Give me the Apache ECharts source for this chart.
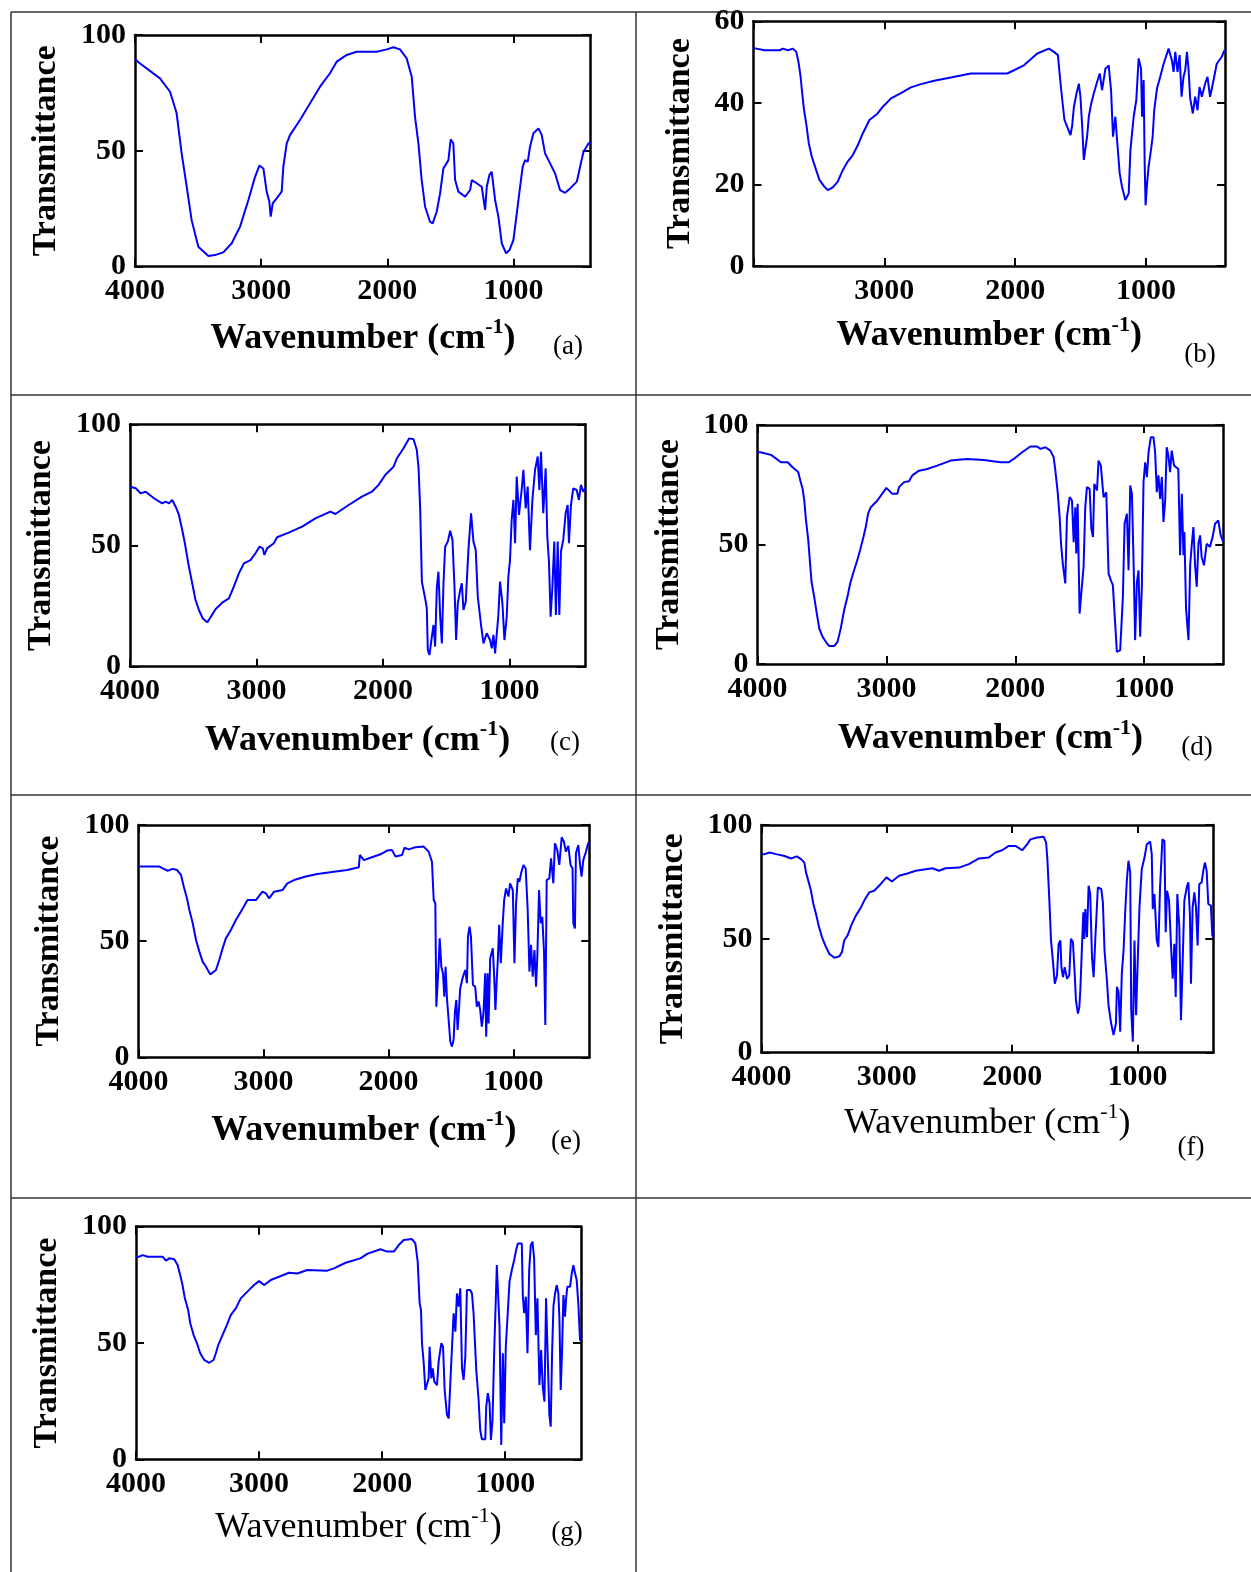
<!DOCTYPE html>
<html><head><meta charset="utf-8">
<script src="https://cdn.jsdelivr.net/npm/echarts@6/dist/echarts.min.js"></script>
<style>html,body{margin:0;padding:0;background:#fff}#c{width:1251px;height:1572px}</style>
</head><body><div id="c"></div>
<script>
// ---- tick labels ----
const xTickValues = [4000, 3000, 2000, 1000];
const xTickLabelsB = [3000, 2000, 1000];
const yTicks100 = [0, 50, 100];
const yTicks60 = [0, 20, 40, 60];
const panelLabels = ['(a)', '(b)', '(c)', '(d)', '(e)', '(f)', '(g)'];

// ---- spectra: [wavenumber (cm-1), transmittance] ----
const specA = [[4000,89.5],[3960,87.7],[3802,81.3],[3722,75.5],[3670,66.2],[3630,48.9],[3590,34.5],[3551,20.1],[3498,8.6],[3418,4.6],[3366,5.0],[3300,6.2],[3233,10.1],[3167,17.3],[3101,28.8],[3048,38.8],[3014,43.6],[2982,42.4],[2956,32.4],[2935,28.1],[2924,21.6],[2908,27.3],[2877,29.5],[2837,32.4],[2824,43.2],[2797,53.2],[2771,56.8],[2692,63.3],[2612,70.5],[2533,77.7],[2454,83.5],[2401,88.5],[2321,91.4],[2242,92.8],[2084,92.8],[2004,93.8],[1951,94.7],[1899,93.8],[1846,89.9],[1806,82.0],[1780,64.7],[1753,53.2],[1727,37.4],[1700,25.9],[1661,19.4],[1640,18.7],[1608,23.7],[1581,31.7],[1555,42.4],[1515,46.0],[1497,55.0],[1476,53.2],[1462,37.4],[1436,32.4],[1383,30.2],[1343,33.1],[1330,37.4],[1291,36.0],[1251,34.5],[1224,24.5],[1211,34.5],[1190,39.6],[1172,41.0],[1145,28.8],[1119,21.6],[1092,10.1],[1058,5.8],[1031,7.2],[1000,11.5],[973,23.0],[947,34.5],[926,43.2],[907,46.0],[886,45.3],[868,51.8],[841,57.6],[801,59.7],[775,56.8],[749,48.9],[709,44.6],[670,40.3],[630,33.1],[590,31.9],[550,33.8],[497,36.7],[471,43.2],[444,49.6],[405,53.2],[387,53.5]];
const specB = [[4000,53.3],[3978,53.3],[3915,52.9],[3800,52.9],[3775,53.3],[3737,52.9],[3699,53.3],[3673,52.5],[3656,50.0],[3640,46.4],[3630,43.1],[3615,38.6],[3597,34.9],[3577,30.0],[3554,26.8],[3521,23.5],[3496,21.1],[3457,19.4],[3432,18.6],[3394,19.3],[3356,20.7],[3318,23.5],[3280,25.6],[3241,27.2],[3203,29.6],[3165,32.5],[3114,35.8],[3051,37.4],[3013,39.0],[2949,41.1],[2873,42.4],[2797,43.8],[2720,44.6],[2619,45.4],[2492,46.2],[2339,47.2],[2212,47.2],[2060,47.2],[2009,48.0],[1933,49.2],[1831,52.1],[1742,53.3],[1704,52.5],[1673,51.7],[1658,46.4],[1640,40.7],[1623,35.8],[1602,34.1],[1577,32.1],[1564,34.5],[1551,39.0],[1531,42.3],[1513,44.7],[1501,41.5],[1488,34.5],[1475,26.0],[1463,25.6],[1450,31.7],[1437,36.6],[1419,39.8],[1399,42.3],[1374,45.1],[1353,47.2],[1336,43.1],[1310,48.4],[1285,49.2],[1267,43.1],[1252,31.7],[1234,36.6],[1221,30.9],[1201,22.7],[1183,19.4],[1158,16.2],[1132,17.8],[1119,28.4],[1094,36.6],[1074,40.7],[1056,50.9],[1038,48.4],[1030,36.6],[1018,45.6],[1010,25.1],[1003,14.9],[992,20.2],[980,24.3],[962,28.4],[949,31.7],[937,38.2],[916,43.5],[891,46.4],[865,49.6],[827,53.3],[802,50.4],[789,47.6],[776,52.5],[759,47.6],[743,51.7],[728,41.5],[713,46.4],[700,48.0],[687,52.5],[675,48.4],[662,41.1],[642,37.4],[624,41.5],[606,38.2],[591,43.9],[573,41.5],[548,44.7],[530,46.4],[510,41.5],[489,44.7],[459,49.6],[421,51.3],[400,52.9]];
const specC = [[4000,74.0],[3982,74.0],[3955,73.6],[3916,71.5],[3876,72.2],[3811,69.5],[3745,67.4],[3718,68.1],[3692,67.4],[3666,68.8],[3639,66.0],[3613,62.6],[3587,56.4],[3566,50.9],[3539,42.6],[3508,34.4],[3482,27.5],[3455,23.4],[3424,19.9],[3389,18.3],[3363,20.4],[3324,23.7],[3271,26.4],[3218,28.2],[3179,33.0],[3139,38.5],[3100,42.6],[3047,44.0],[3008,46.8],[2976,49.5],[2950,48.8],[2937,46.1],[2916,48.8],[2863,50.9],[2837,53.4],[2745,55.3],[2639,57.8],[2534,61.2],[2416,64.0],[2376,63.0],[2271,66.7],[2166,70.2],[2087,72.2],[2034,75.0],[1982,79.1],[1916,82.5],[1889,86.0],[1837,90.1],[1792,94.2],[1758,93.8],[1732,89.4],[1718,81.8],[1705,64.6],[1692,35.1],[1679,31.6],[1666,28.2],[1653,24.1],[1645,6.9],[1632,4.8],[1613,12.4],[1600,17.2],[1587,8.3],[1574,32.3],[1561,39.2],[1547,20.6],[1534,9.6],[1521,34.4],[1508,49.5],[1487,51.6],[1468,56.1],[1450,52.3],[1434,33.0],[1421,11.0],[1408,26.1],[1389,31.6],[1376,34.4],[1363,23.4],[1345,26.8],[1324,48.1],[1303,63.3],[1284,51.6],[1266,48.1],[1250,28.9],[1224,17.2],[1205,9.6],[1179,13.8],[1153,11.0],[1139,7.6],[1126,13.1],[1113,5.5],[1087,21.3],[1074,35.1],[1055,26.1],[1039,11.0],[1021,20.6],[1008,37.1],[995,44.0],[982,60.5],[968,68.8],[955,50.9],[942,78.4],[924,62.6],[903,72.9],[889,81.2],[871,65.3],[855,74.3],[837,48.1],[818,68.8],[797,81.2],[776,86.7],[763,72.9],[750,88.7],[732,63.3],[713,81.8],[700,53.6],[687,43.3],[674,20.6],[661,31.6],[645,51.6],[632,21.3],[618,51.6],[605,21.3],[592,47.5],[574,52.3],[555,63.3],[539,66.7],[529,50.9],[513,66.7],[495,73.6],[468,72.9],[450,68.8],[434,75.0],[416,72.2],[402,73.5]];
const specD = [[4000,88.6],[3978,88.6],[3895,87.5],[3818,84.4],[3766,84.4],[3728,82.3],[3684,80.3],[3668,76.8],[3650,73.3],[3637,68.4],[3625,60.8],[3606,51.7],[3594,43.4],[3581,34.4],[3560,28.1],[3542,21.8],[3521,14.9],[3495,11.4],[3470,9.3],[3444,7.5],[3405,7.5],[3379,9.3],[3354,14.9],[3328,22.5],[3302,28.1],[3281,33.7],[3255,38.5],[3230,42.7],[3204,47.6],[3178,53.1],[3160,57.3],[3142,62.9],[3121,65.6],[3070,68.4],[3000,73.7],[2954,71.2],[2915,71.2],[2902,74.0],[2863,76.1],[2825,76.5],[2799,78.9],[2747,80.9],[2683,81.6],[2605,83.0],[2502,85.1],[2373,85.8],[2244,85.4],[2115,84.4],[2050,84.4],[2012,85.8],[1947,88.6],[1883,91.0],[1831,91.0],[1805,90.0],[1766,90.7],[1728,89.3],[1702,86.5],[1689,80.9],[1671,71.9],[1655,60.8],[1645,50.3],[1630,41.3],[1612,33.7],[1599,61.5],[1578,69.8],[1560,68.4],[1547,51.0],[1534,65.6],[1527,46.2],[1516,67.0],[1501,21.1],[1488,29.5],[1470,40.6],[1457,65.6],[1444,74.0],[1423,73.3],[1410,56.6],[1397,53.1],[1387,75.4],[1366,72.6],[1354,85.1],[1336,83.0],[1315,69.8],[1294,71.9],[1276,37.8],[1258,35.0],[1243,33.0],[1225,17.0],[1212,5.1],[1186,5.8],[1165,28.1],[1152,58.7],[1134,62.9],[1121,39.2],[1108,74.7],[1095,71.2],[1083,44.8],[1070,10.0],[1057,33.7],[1044,39.2],[1031,11.4],[1018,32.3],[1005,76.1],[992,84.4],[979,78.2],[966,88.6],[948,94.9],[928,94.9],[915,88.6],[902,71.9],[889,78.9],[876,69.1],[863,78.2],[850,59.4],[837,68.4],[825,90.7],[812,87.2],[799,80.3],[786,89.3],[768,83.0],[735,81.6],[721,45.5],[708,71.2],[695,45.5],[688,55.2],[675,23.2],[656,10.0],[643,41.3],[630,50.3],[618,57.3],[605,41.3],[592,32.3],[579,50.3],[566,53.8],[554,44.8],[536,41.3],[515,50.3],[490,49.0],[469,53.1],[450,58.7],[425,60.1],[406,53.8],[386,51.0]];
const specE = [[4000,82.1],[3979,82.1],[3832,82.1],[3806,81.3],[3793,81.8],[3766,80.3],[3726,81.1],[3691,80.6],[3660,78.5],[3638,73.5],[3612,68.4],[3593,63.4],[3566,57.7],[3540,50.5],[3513,45.5],[3487,41.2],[3460,39.0],[3426,35.7],[3380,37.6],[3354,41.9],[3327,46.9],[3301,51.2],[3261,54.8],[3221,59.1],[3181,62.7],[3128,67.7],[3061,67.7],[3008,71.3],[2981,70.6],[2955,68.4],[2915,71.3],[2848,72.0],[2809,74.9],[2755,76.3],[2662,77.8],[2569,78.9],[2436,79.9],[2330,80.6],[2237,81.8],[2229,87.1],[2197,84.9],[2144,85.9],[2064,87.4],[2011,89.0],[1971,89.2],[1944,86.4],[1891,87.1],[1872,90.2],[1838,89.5],[1785,90.4],[1718,90.7],[1678,88.5],[1652,84.2],[1638,67.7],[1625,66.3],[1617,21.8],[1606,22.5],[1598,40.5],[1590,51.2],[1577,39.0],[1564,36.2],[1553,26.1],[1543,39.0],[1532,25.4],[1519,24.7],[1505,6.7],[1492,4.6],[1479,7.5],[1468,19.7],[1457,24.7],[1447,11.8],[1436,20.4],[1426,29.7],[1404,34.7],[1386,37.6],[1372,31.9],[1364,51.9],[1351,56.2],[1340,51.9],[1324,31.1],[1306,30.4],[1293,21.8],[1279,24.0],[1266,20.4],[1253,13.2],[1239,19.7],[1226,36.2],[1218,8.9],[1207,36.2],[1199,14.6],[1186,42.6],[1165,46.9],[1154,34.7],[1144,20.4],[1133,34.0],[1125,41.9],[1114,57.0],[1101,40.5],[1085,58.4],[1074,67.7],[1059,72.7],[1040,69.2],[1027,74.9],[1005,72.0],[992,40.5],[979,66.3],[965,77.0],[952,75.6],[939,79.2],[920,82.8],[902,81.3],[886,63.4],[872,36.9],[859,48.4],[846,34.7],[832,46.2],[819,30.4],[809,43.3],[795,72.0],[782,57.7],[769,60.5],[755,44.8],[745,13.9],[734,76.3],[713,77.0],[699,85.7],[681,74.9],[668,92.1],[649,89.2],[633,82.8],[614,94.7],[596,92.8],[580,88.5],[561,91.0],[543,82.8],[527,81.3],[521,57.7],[508,55.5],[500,87.8],[481,91.4],[468,83.5],[455,77.8],[441,84.9],[420,88.5],[402,92.1],[393,92.5]];
const specF = [[4000,87.2],[3976,87.2],[3936,87.9],[3883,87.2],[3817,86.4],[3764,85.3],[3719,86.2],[3684,85.0],[3658,83.5],[3645,79.2],[3623,74.8],[3605,71.1],[3586,65.3],[3565,60.9],[3544,55.8],[3517,50.7],[3491,47.1],[3459,43.4],[3419,41.7],[3379,42.3],[3358,44.2],[3340,49.3],[3313,51.5],[3279,56.6],[3247,60.2],[3207,63.8],[3180,66.8],[3141,70.4],[3101,71.1],[3048,74.1],[3003,77.0],[2960,75.2],[2902,77.7],[2836,78.7],[2769,79.9],[2637,81.0],[2584,79.9],[2531,81.0],[2424,81.3],[2345,82.8],[2265,85.3],[2186,85.7],[2133,87.9],[2080,88.9],[2027,90.8],[1973,90.8],[1920,88.9],[1881,91.5],[1854,93.7],[1801,94.5],[1748,94.8],[1729,92.3],[1719,85.0],[1703,66.8],[1690,49.3],[1674,39.8],[1660,30.3],[1642,34.0],[1629,47.8],[1615,49.3],[1607,37.6],[1594,33.2],[1581,37.6],[1562,32.5],[1544,34.0],[1531,50.0],[1515,48.5],[1501,34.7],[1491,23.0],[1475,17.2],[1464,20.1],[1456,27.4],[1443,46.4],[1432,61.7],[1424,50.0],[1416,63.1],[1403,50.7],[1390,73.3],[1377,69.7],[1363,42.0],[1350,33.2],[1337,49.3],[1316,72.6],[1289,71.9],[1276,66.0],[1263,44.9],[1244,31.8],[1231,20.8],[1210,12.8],[1191,7.7],[1172,12.8],[1164,28.9],[1151,26.7],[1138,9.2],[1125,34.7],[1111,44.9],[1098,61.7],[1085,75.5],[1072,84.3],[1058,79.2],[1050,18.7],[1037,4.8],[1024,49.3],[1011,16.5],[997,42.0],[984,63.8],[966,80.6],[944,85.7],[926,91.5],[899,92.7],[886,87.2],[878,63.1],[865,69.7],[846,49.3],[833,46.4],[820,72.6],[801,93.7],[785,93.0],[775,52.9],[764,71.1],[748,66.8],[732,46.4],[719,32.5],[706,47.8],[695,24.5],[682,69.7],[666,55.1],[653,14.3],[642,34.7],[626,66.8],[607,72.6],[594,74.8],[581,59.5],[573,30.3],[560,63.8],[546,70.4],[533,63.8],[520,47.1],[507,74.1],[488,74.8],[475,79.9],[462,83.5],[448,79.9],[435,65.3],[414,64.6],[403,51.5],[395,50.5]];
const specG = [[4000,87.1],[3973,87.1],[3946,87.8],[3905,87.1],[3784,87.1],[3757,85.4],[3730,86.4],[3689,86.0],[3662,83.5],[3641,79.2],[3622,74.9],[3603,69.2],[3576,64.2],[3559,58.5],[3532,53.4],[3505,49.9],[3478,45.6],[3446,42.7],[3405,41.5],[3370,42.7],[3351,45.6],[3332,49.1],[3297,53.4],[3262,57.7],[3230,62.0],[3189,64.9],[3149,69.2],[3095,72.1],[3041,74.9],[3000,76.6],[2959,74.9],[2905,77.1],[2838,78.5],[2757,80.2],[2689,79.9],[2608,81.4],[2446,81.1],[2392,82.1],[2297,84.5],[2176,86.4],[2122,88.3],[2014,90.3],[1959,89.3],[1905,89.3],[1865,92.1],[1824,94.3],[1757,94.7],[1730,92.8],[1711,85.0],[1695,67.0],[1684,64.2],[1676,49.9],[1662,41.3],[1649,29.8],[1635,29.8],[1622,34.8],[1614,48.4],[1600,34.8],[1589,39.1],[1576,33.4],[1554,31.9],[1541,42.0],[1519,49.9],[1505,48.4],[1492,29.8],[1473,19.1],[1459,17.6],[1446,32.7],[1432,48.4],[1419,62.8],[1405,54.9],[1392,71.3],[1378,65.6],[1365,73.5],[1351,39.1],[1338,34.1],[1324,44.1],[1311,72.8],[1284,72.8],[1270,71.3],[1257,62.8],[1235,38.4],[1216,25.5],[1203,12.6],[1189,8.6],[1162,8.6],[1154,22.6],[1141,28.4],[1127,24.1],[1116,8.3],[1103,16.9],[1089,47.0],[1076,69.2],[1068,83.5],[1054,84.2],[1046,57.0],[1032,6.2],[1019,45.6],[1008,15.5],[995,48.4],[981,61.3],[965,76.4],[946,81.4],[927,85.7],[911,90.0],[897,92.8],[865,92.8],[857,70.6],[846,62.8],[832,69.9],[819,45.6],[805,81.4],[792,92.1],[778,93.6],[765,86.4],[751,53.4],[738,69.2],[722,31.9],[708,47.0],[695,31.2],[681,24.8],[668,69.2],[654,68.5],[641,19.1],[630,14.0],[619,45.6],[608,65.6],[595,71.3],[581,74.9],[568,71.3],[559,59.9],[549,29.8],[538,46.3],[527,70.6],[514,61.3],[505,69.2],[495,74.2],[473,74.2],[459,79.9],[446,83.5],[432,79.9],[419,77.1],[405,66.3],[392,51.3],[384,51.0]];

// ---- layout (pixel geometry of each plot box) ----
const panels = [
  {data: specA, left: 135,   top: 35,    right: 590.7,  bottom: 266.7,  xmin: 387, ymax: 100, yint: 50, xLabels: xTickValues,  yNameGap: 72, xNameGap: 50, bold: true,  lx: 568,  ly: 347},
  {data: specB, left: 753.5, top: 21.3,  right: 1225,   bottom: 266,    xmin: 396, ymax: 60,  yint: 20, xLabels: xTickLabelsB, yNameGap: 56, xNameGap: 48, bold: true,  lx: 1200, ly: 355},
  {data: specC, left: 130,   top: 424.3, right: 585,    bottom: 666.7,  xmin: 402, ymax: 100, yint: 50, xLabels: xTickValues,  yNameGap: 72, xNameGap: 52, bold: true,  lx: 565,  ly: 743},
  {data: specD, left: 757.5, top: 425,   right: 1223.3, bottom: 664,    xmin: 386, ymax: 100, yint: 50, xLabels: xTickValues,  yNameGap: 71, xNameGap: 53, bold: true,  lx: 1197, ly: 748},
  {data: specE, left: 138.5, top: 825,   right: 589.3,  bottom: 1057.3, xmin: 393, ymax: 100, yint: 50, xLabels: xTickValues,  yNameGap: 72, xNameGap: 51, bold: true,  lx: 566,  ly: 1142},
  {data: specF, left: 761.5, top: 825,   right: 1213.3, bottom: 1052.7, xmin: 395, ymax: 100, yint: 50, xLabels: xTickValues,  yNameGap: 71, xNameGap: 49, bold: false, lx: 1191, ly: 1148},
  {data: specG, left: 136,   top: 1226.7,right: 581,    bottom: 1459.3, xmin: 384, ymax: 100, yint: 50, xLabels: xTickValues,  yNameGap: 72, xNameGap: 46, bold: false, lx: 567,  ly: 1533}
];

const FONT = '"Liberation Serif", "Times New Roman", serif';
const grids = [], xAxes = [], yAxes = [], series = [], elements = [];

panels.forEach((p, i) => {
  grids.push({left: p.left, top: p.top, width: p.right - p.left, height: p.bottom - p.top, containLabel: false});
  const axLine = {show: true, onZero: false, lineStyle: {color: '#000', width: 2.5}};
  const tick = {show: true, inside: true, length: 8, lineStyle: {color: '#000', width: 2}};
  const xCommon = {type: 'value', gridIndex: i, min: p.xmin, max: 4000, inverse: true,
    axisLine: axLine, splitLine: {show: false},
    axisTick: Object.assign({}, tick, {customValues: xTickValues})};
  const w = p.bold ? 'bold' : 'normal';
  const nSize = p.bold ? 36 : 36;
  xAxes.push(Object.assign({}, xCommon, {
    position: 'bottom',
    axisLabel: {show: true, customValues: p.xLabels, formatter: v => String(v), margin: 10, color: '#000', fontFamily: FONT, fontWeight: 'bold', fontSize: 30},
    name: '{n|Wavenumber (cm}{s|-1}{n|)}',
    nameLocation: 'middle', nameGap: p.xNameGap,
    nameTextStyle: {rich: {
      n: {fontSize: nSize, fontWeight: w, fontFamily: FONT, color: '#000', lineHeight: 44},
      s: {fontSize: 22, fontWeight: w, fontFamily: FONT, color: '#000', lineHeight: 22, verticalAlign: 'top'}
    }}
  }));
  xAxes.push(Object.assign({}, xCommon, {position: 'top', axisLabel: {show: false}}));
  const yCommon = {type: 'value', gridIndex: i, min: 0, max: p.ymax, interval: p.yint,
    axisLine: axLine, splitLine: {show: false}, axisTick: tick};
  yAxes.push(Object.assign({}, yCommon, {
    position: 'left',
    axisLabel: {show: true, formatter: v => String(v), margin: 9, color: '#000', fontFamily: FONT, fontWeight: 'bold', fontSize: 30},
    name: 'Transmittance', nameLocation: 'middle', nameRotate: 90, nameGap: p.yNameGap,
    nameTextStyle: {fontSize: 34, fontWeight: 'bold', fontFamily: FONT, color: '#000'}
  }));
  yAxes.push(Object.assign({}, yCommon, {position: 'right', axisLabel: {show: false}}));
  series.push({type: 'line', xAxisIndex: 2 * i, yAxisIndex: 2 * i, data: p.data,
    showSymbol: false, symbol: 'none', clip: true, animation: false,
    lineStyle: {color: '#0000ff', width: 2}});
  elements.push({type: 'text', x: p.lx, y: p.ly, silent: true,
    style: {text: panelLabels[i], font: '27px ' + FONT, fill: '#000',
      align: 'center', verticalAlign: 'middle', textAlign: 'center', textVerticalAlign: 'middle'}});
});

// table borders
const border = {stroke: '#333', lineWidth: 1.5};
[[11, 12, 1251, 12], [11, 395, 1251, 395], [11, 795, 1251, 795], [11, 1198, 1251, 1198],
 [11, 12, 11, 1572], [636, 12, 636, 1572]].forEach(l => {
  elements.push({type: 'line', silent: true, shape: {x1: l[0], y1: l[1], x2: l[2], y2: l[3]}, style: border});
});

const chart = echarts.init(document.getElementById('c'), null, {renderer: 'canvas'});
chart.setOption({
  animation: false,
  backgroundColor: '#fff',
  grid: grids, xAxis: xAxes, yAxis: yAxes, series: series,
  graphic: {elements: elements}
});
</script></body></html>
